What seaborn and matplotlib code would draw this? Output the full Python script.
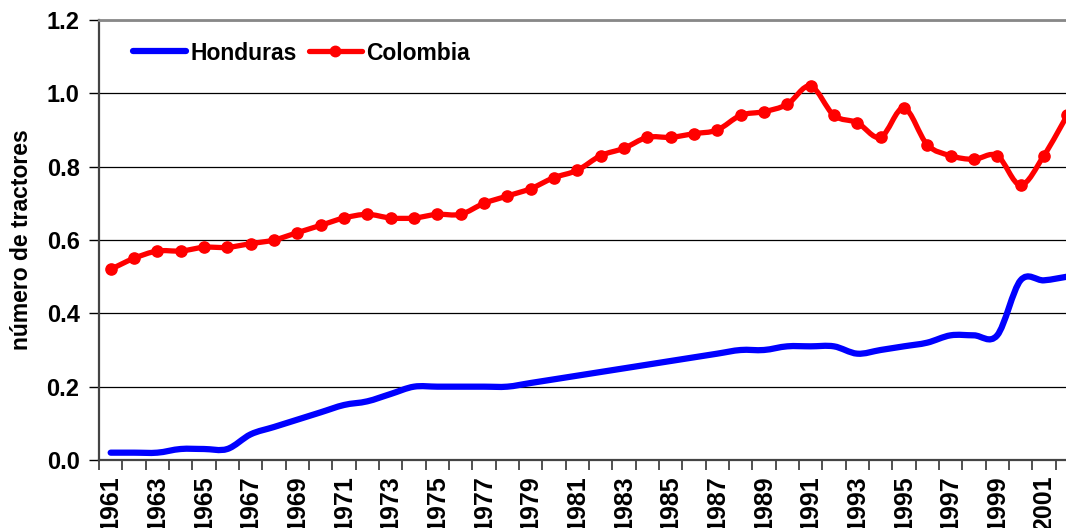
import numpy as np
import pandas as pd
import matplotlib
matplotlib.use("Agg")
import matplotlib.pyplot as plt
import seaborn as sns
from matplotlib.path import Path
from matplotlib.patches import PathPatch
from matplotlib.lines import Line2D
from matplotlib.ticker import MultipleLocator, FixedLocator

# -----------------------------
# Data
# -----------------------------

years = list(range(1961, 2003))

honduras = [
    0.02, 0.02, 0.02, 0.03, 0.03, 0.03, 0.07, 0.09, 0.11, 0.13,
    0.15, 0.16, 0.18, 0.20, 0.20, 0.20, 0.20, 0.20, 0.21, 0.22,
    0.23, 0.24, 0.25, 0.26, 0.27, 0.28, 0.29, 0.30, 0.30, 0.31,
    0.31, 0.31, 0.29, 0.30, 0.31, 0.32, 0.34, 0.34, 0.34, 0.49,
    0.49, 0.50
]

colombia = [
    0.52, 0.55, 0.57, 0.57, 0.58, 0.58, 0.59, 0.60, 0.62, 0.64,
    0.66, 0.67, 0.66, 0.66, 0.67, 0.67, 0.70, 0.72, 0.74, 0.77,
    0.79, 0.83, 0.85, 0.88, 0.88, 0.89, 0.90, 0.94, 0.95, 0.97,
    1.02, 0.94, 0.92, 0.88, 0.96, 0.86, 0.83, 0.82, 0.83, 0.75,
    0.83, 0.94
]

tick_years = list(range(1961, 2002, 2))

FONT = "Liberation Sans"


# -----------------------------
# Smooth line (Excel style bezier)
# -----------------------------

def smooth_path(x, y):

    x = np.asarray(x, dtype=float)
    y = np.asarray(y, dtype=float)
    pts = np.column_stack([x, y])
    n = len(pts)

    verts = [pts[0]]
    codes = [Path.MOVETO]

    for i in range(n - 1):
        p0 = pts[i - 1] if i > 0 else pts[i]
        p1 = pts[i]
        p2 = pts[i + 1]
        p3 = pts[i + 2] if i + 2 < n else pts[i + 1]
        c1 = p1 + (p2 - p0) / 6.0
        c2 = p2 - (p3 - p1) / 6.0
        verts += [c1, c2, p2]
        codes += [Path.CURVE4] * 3

    return Path(verts, codes)


df = pd.DataFrame({
    "year": years,
    "Honduras": honduras,
    "Colombia": colombia
})

sns.set_style("white")
plt.rcParams["font.family"] = [FONT, "DejaVu Sans"]
plt.rcParams["font.weight"] = "bold"
plt.rcParams["text.color"] = "black"
plt.rcParams["axes.labelcolor"] = "black"
plt.rcParams["xtick.color"] = "black"
plt.rcParams["ytick.color"] = "black"

fig = plt.figure(figsize=(10.66, 5.28), dpi=100)
ax = fig.add_axes([99 / 1066, 68 / 528, 1 - 99 / 1066, 440 / 528])

# gridlines
ax.set_axisbelow(True)
ax.yaxis.grid(True, color="black", linewidth=0.9)

# lines
ax.add_patch(PathPatch(
    smooth_path(df["year"], df["Honduras"]),
    facecolor="none",
    edgecolor="#0000FF",
    linewidth=4.5,
    capstyle="round",
    joinstyle="round",
    zorder=3
))

ax.add_patch(PathPatch(
    smooth_path(df["year"], df["Colombia"]),
    facecolor="none",
    edgecolor="#FF0000",
    linewidth=3.8,
    capstyle="round",
    joinstyle="round",
    zorder=3
))

sns.scatterplot(
    data=df,
    x="year",
    y="Colombia",
    color="#FF0000",
    s=65,
    edgecolor="#FF0000",
    linewidth=1,
    zorder=4,
    ax=ax
)

# axes
ax.set_xlim(1960.5, 1960.5 + 967 / 23.33)
ax.set_ylim(0, 1.2)

ax.yaxis.set_major_locator(MultipleLocator(0.2))
ax.set_yticklabels([f"{v:.1f}" for v in ax.get_yticks()])

ax.xaxis.set_major_locator(FixedLocator(tick_years))
ax.set_xticklabels([str(y) for y in tick_years], rotation=90)
ax.xaxis.set_minor_locator(FixedLocator(np.arange(1960.5, 2003, 1.0)))

ax.tick_params(axis="x", which="major", length=0, pad=11,
               labelsize=18)
ax.tick_params(axis="x", which="minor", length=7, width=1.2,
               color="#333333", bottom=True)
ax.tick_params(axis="y", which="major", length=7, width=1,
               color="black", pad=7, labelsize=17, left=True)

for label in ax.get_xticklabels() + ax.get_yticklabels():
    label.set_fontweight("bold")

ax.spines["right"].set_visible(False)
ax.spines["top"].set_color("#888888")
ax.spines["top"].set_linewidth(2)
ax.spines["left"].set_color("#444444")
ax.spines["left"].set_linewidth(1.6)
ax.spines["bottom"].set_color("#444444")
ax.spines["bottom"].set_linewidth(1.6)

ax.set_xlabel("")
ax.set_ylabel(
    "número de tractores",
    fontsize=16.5,
    fontweight="bold",
    labelpad=10
)

# legend
handles = [
    Line2D([], [], color="#0000FF", linewidth=4.5, solid_capstyle="round"),
    Line2D([], [], color="#FF0000", linewidth=3.8, marker="o",
           markersize=7.5, solid_capstyle="round")
]

ax.legend(
    handles,
    ["Honduras", "Colombia"],
    loc="center left",
    bbox_to_anchor=(0.035, 0.925),
    ncol=2,
    frameon=False,
    borderpad=0,
    borderaxespad=0,
    handlelength=2.3,
    handletextpad=0.2,
    columnspacing=0.55,
    prop={"family": FONT, "weight": "bold", "size": 16.5}
)

plt.savefig("out.png", dpi=100)
plt.close()
